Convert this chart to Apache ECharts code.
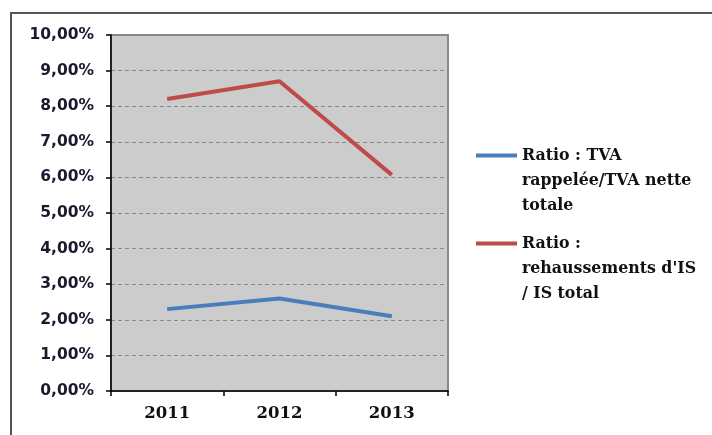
<!DOCTYPE html>
<html>
<head>
<meta charset="utf-8">
<script src="https://cdn.jsdelivr.net/npm/echarts@6/dist/echarts.min.js"></script>
<style>
  html, body { margin: 0; padding: 0; background: #fff; }
  #chart { width: 712px; height: 435px; }
</style>
</head>
<body>
<div id="chart"></div>
<script>
const years = ['2011', '2012', '2013'];
const tvaRatio = [2.3, 2.6, 2.1];
const isRatio = [8.2, 8.7, 6.07];
const tvaName = 'Ratio : TVA\nrappelée/TVA nette\ntotale';
const isName = 'Ratio :\nrehaussements d\'IS\n/ IS total';

const chart = echarts.init(document.getElementById('chart'), null, { renderer: 'canvas' });

const legendText = {
  fontFamily: 'DejaVu Serif',
  fontWeight: 'bold',
  fontSize: 15.8,
  color: '#111',
  lineHeight: 25
};

// icon sits next to the first line: pad the name with blank lines above
function padLegend(name) {
  return '\n\n' + name;
}

chart.setOption({
  animation: false,
  backgroundColor: '#fff',
  graphic: [{
    type: 'rect',
    shape: { x: 11, y: 13, width: 720, height: 440 },
    style: { fill: 'none', stroke: '#555', lineWidth: 2 },
    silent: true
  }],
  grid: {
    left: 111, right: 264, top: 35, bottom: 44,
    show: true,
    backgroundColor: '#cccccc',
    borderColor: '#888',
    borderWidth: 2
  },
  legend: [
    {
      data: [tvaName],
      orient: 'vertical',
      left: 476, top: 93, padding: 0,
      itemWidth: 41, itemHeight: 4,
      icon: 'rect',
      formatter: padLegend,
      textStyle: legendText
    },
    {
      data: [isName],
      orient: 'vertical',
      left: 476, top: 181, padding: 0,
      itemWidth: 41, itemHeight: 4,
      icon: 'rect',
      formatter: padLegend,
      textStyle: legendText
    }
  ],
  xAxis: {
    type: 'category',
    data: years,
    boundaryGap: true,
    axisLine: { lineStyle: { color: '#000', width: 1.5 } },
    axisTick: { show: true, length: 5, lineStyle: { color: '#000', width: 1.5 } },
    axisLabel: {
      margin: 14,
      fontFamily: 'DejaVu Serif',
      fontWeight: 'bold',
      fontSize: 16.5,
      color: '#111'
    },
    splitLine: { show: false }
  },
  yAxis: {
    type: 'value',
    min: 0, max: 10, interval: 1,
    axisLine: { show: true, lineStyle: { color: '#000', width: 1.5 } },
    axisTick: { show: true, length: 5, lineStyle: { color: '#000', width: 1.5 } },
    axisLabel: {
      margin: 17,
      fontFamily: 'DejaVu Sans',
      fontWeight: 'bold',
      fontSize: 15.5,
      color: '#1a1a2e',
      formatter: v => v.toFixed(2).replace('.', ',') + '%'
    },
    splitLine: { show: true, lineStyle: { color: '#888', type: [4, 3], width: 1 } }
  },
  series: [
    {
      name: tvaName,
      type: 'line',
      data: tvaRatio,
      symbol: 'none',
      lineStyle: { color: '#4a7ebb', width: 4 },
      itemStyle: { color: '#4a7ebb' }
    },
    {
      name: isName,
      type: 'line',
      data: isRatio,
      symbol: 'none',
      lineStyle: { color: '#be4b48', width: 4 },
      itemStyle: { color: '#be4b48' }
    }
  ]
});
</script>
</body>
</html>
